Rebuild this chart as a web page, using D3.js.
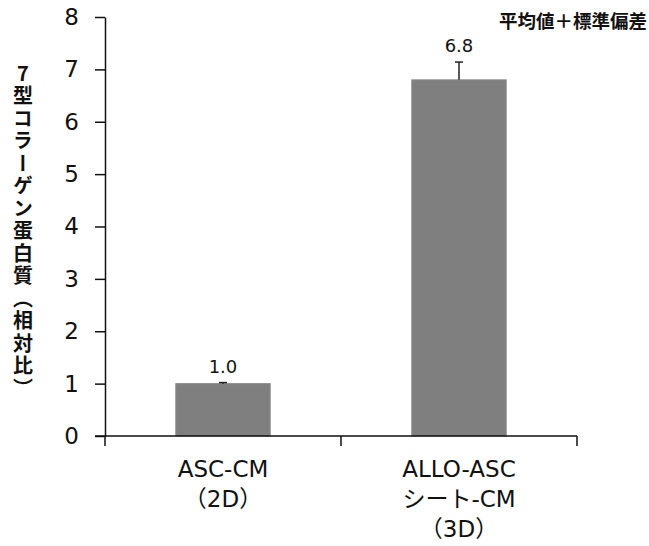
<!DOCTYPE html>
<html>
<head>
<meta charset="utf-8">
<script src="https://cdn.jsdelivr.net/npm/d3@7"></script>
<style>
  body { margin: 0; background: #fff; }
  svg { font-family: "DejaVu Sans", "Noto Sans CJK JP", sans-serif; }
</style>
</head>
<body>
<svg width="649" height="546"></svg>
<script>
const categories = [['ASC-CM', '（2D）'], ['ALLO-ASC', 'シート-CM', '（3D）']]
const means = [1.0, 6.8]
const sds = [0.02, 0.34]
const yTicks = [0, 1, 2, 3, 4, 5, 6, 7, 8]
const yTitle = '7型コラーゲン蛋白質（相対比）'
const note = '平均値＋標準偏差'

const svg = d3.select('svg')
const margin = { top: 17, right: 72, bottom: 110, left: 105 }
const width = 649 - margin.left - margin.right
const height = 546 - margin.top - margin.bottom

const x = d3.scaleBand()
  .domain(d3.range(categories.length))
  .range([0, width])
  .paddingInner(0)
  .paddingOuter(0)

const y = d3.scaleLinear()
  .domain([0, 8])
  .range([height, 0])

const g = svg.append('g')
  .attr('transform', `translate(${margin.left},${margin.top})`)

// bars
const barW = x.bandwidth() * 0.4
g.selectAll('rect.bar')
  .data(means)
  .enter().append('rect')
    .attr('class', 'bar')
    .attr('x', (d, i) => x(i) + (x.bandwidth() - barW) / 2)
    .attr('y', d => y(d))
    .attr('width', barW)
    .attr('height', d => y(0) - y(d))
    .attr('fill', '#7f7f7f')
    .attr('stroke', '#8c8c8c')
    .attr('stroke-width', 1)

// error bars
const err = g.selectAll('g.err')
  .data(means)
  .enter().append('g')
    .attr('class', 'err')
    .attr('transform', (d, i) => `translate(${x(i) + x.bandwidth() / 2},0)`)
err.append('line')
  .attr('y1', d => y(d))
  .attr('y2', (d, i) => y(d + sds[i]))
  .attr('stroke', '#222')
  .attr('stroke-width', 1.5)
err.append('line')
  .attr('x1', -4).attr('x2', 4)
  .attr('y1', (d, i) => y(d + sds[i]))
  .attr('y2', (d, i) => y(d + sds[i]))
  .attr('stroke', '#222')
  .attr('stroke-width', 1.5)

// value labels
g.selectAll('text.val')
  .data(means)
  .enter().append('text')
    .attr('class', 'val')
    .attr('x', (d, i) => x(i) + x.bandwidth() / 2)
    .attr('y', (d, i) => y(d + sds[i]) - 10)
    .attr('text-anchor', 'middle')
    .attr('font-size', 18)
    .attr('fill', '#111')
    .text(d => d.toFixed(1))

// y axis
const yAxis = g.append('g')
  .call(d3.axisLeft(y).tickValues(yTicks).tickSize(10).tickPadding(16).tickSizeOuter(0))
yAxis.attr('font-family', null)
yAxis.select('.domain').attr('stroke', '#111').attr('stroke-width', 1.5)
yAxis.selectAll('.tick line').attr('stroke', '#111').attr('stroke-width', 1.5)
yAxis.selectAll('.tick text')
  .attr('font-size', 23)
  .attr('fill', '#111')

// x axis with ticks at band boundaries
const xAxis = g.append('g')
  .attr('transform', `translate(0,${height})`)
xAxis.append('line')
  .attr('x1', -10).attr('x2', width)
  .attr('stroke', '#111').attr('stroke-width', 1.5)
xAxis.selectAll('line.bt')
  .data(d3.range(categories.length + 1))
  .enter().append('line')
    .attr('class', 'bt')
    .attr('x1', i => i < categories.length ? x(i) : width)
    .attr('x2', i => i < categories.length ? x(i) : width)
    .attr('y1', 0).attr('y2', 10)
    .attr('stroke', '#111').attr('stroke-width', 1.5)

const catLabels = xAxis.selectAll('text.cat')
  .data(categories)
  .enter().append('text')
    .attr('class', 'cat')
    .attr('x', (d, i) => x(i) + x.bandwidth() / 2)
    .attr('y', 41)
    .attr('text-anchor', 'middle')
    .attr('font-size', 23)
    .attr('fill', '#111')
catLabels.selectAll('tspan')
  .data(d => d)
  .enter().append('tspan')
    .attr('x', function () { return this.parentNode.getAttribute('x') })
    .attr('dy', (d, i) => i === 0 ? 0 : 30)
    .text(d => d)

// y title, vertical
svg.append('text')
  .attr('x', 23)
  .attr('y', 63)
  .attr('font-size', 20)
  .attr('font-weight', 'bold')
  .attr('font-family', '"Noto Sans CJK JP", sans-serif')
  .attr('fill', '#111')
  .style('writing-mode', 'vertical-rl')
  .style('text-orientation', 'upright')
  .attr('letter-spacing', 2.5)
  .text(yTitle)

// note
svg.append('text')
  .attr('x', 647)
  .attr('y', 28)
  .attr('text-anchor', 'end')
  .attr('font-size', 18.5)
  .attr('font-weight', 'bold')
  .attr('font-family', '"Noto Sans CJK JP", sans-serif')
  .attr('fill', '#111')
  .text(note)
</script>
</body>
</html>
